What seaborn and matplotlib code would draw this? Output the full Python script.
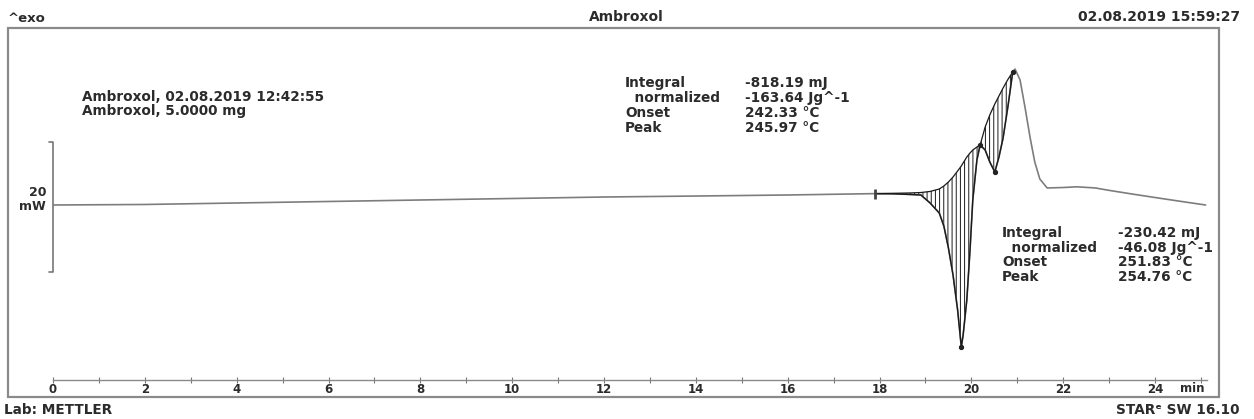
import matplotlib.pyplot as plt
import seaborn as sns
import pandas as pd
from matplotlib.patches import Rectangle
from matplotlib.ticker import MultipleLocator

# DSC curve, time in min, heat flow in mW (relative to start)
time = [0, 2, 4, 6, 8, 10, 12, 14, 16,
        17.9, 18.3, 18.66, 18.9, 19.1, 19.3, 19.4, 19.5, 19.6, 19.7,
        19.78, 19.82, 19.9, 19.97, 20.03, 20.12, 20.19,
        20.3, 20.4, 20.51, 20.6, 20.69, 20.8, 20.9,
        20.95, 21.06, 21.17, 21.28, 21.38, 21.49, 21.65,
        22.0, 22.3, 22.7, 23.0, 23.5, 24.0, 24.5, 25.1]
heat_flow = [0.00, 0.08, 0.31, 0.54, 0.77, 1.00, 1.23, 1.38, 1.54,
             1.75, 1.72, 1.62, 1.54, 0.31, -1.23, -3.23, -6.62, -10.77, -16.15,
             -21.85, -20.00, -14.62, -6.92, 0.77, 6.92, 9.23,
             8.46, 6.62, 5.08, 7.38, 10.31, 15.38, 20.46,
             20.92, 19.23, 14.92, 10.31, 6.62, 4.00, 2.62,
             2.69, 2.80, 2.62, 2.25, 1.69, 1.15, 0.62, 0.00]

# integration limits and their baselines (read at the curve's time points)
int1_range = (17.9, 20.19)
int1_base = [1.75, 1.80, 1.85, 1.92, 2.08, 2.46, 2.92, 3.54, 4.31, 5.23,
             6.00, 6.46, 7.38, 8.00, 8.46, 8.92, 9.23]
int2_range = (20.19, 20.9)
int2_base = [9.23, 12.0, 13.85, 15.54, 16.77, 18.0, 19.38, 20.46]

int1_labels = ["Integral", "  normalized", "Onset", "Peak"]
int1_values = ["-818.19 mJ", "-163.64 Jg^-1", "242.33 °C", "245.97 °C"]
int2_labels = ["Integral", "  normalized", "Onset", "Peak"]
int2_values = ["-230.42 mJ", "-46.08 Jg^-1", "251.83 °C", "254.76 °C"]

x_ticks = list(range(0, 25, 2))
scale_bar_mw = 20

W, H = 1254, 419
TXT = "#2b2b2b"

sns.set_theme(style="white")
plt.rcParams['font.family'] = ['DejaVu Sans']
plt.rcParams['hatch.linewidth'] = 0.7

df = pd.DataFrame({"time": time, "hf": heat_flow})

fig = plt.figure(figsize=(W / 100, H / 100), dpi=100)
fig.patch.set_facecolor("white")


def px(x, y):
    return x / W, 1 - y / H


def put(x, y, s, size=9.8, **kw):
    fig.text(*px(x, y), s, va="center", fontsize=size, fontweight="bold",
             color=TXT, **kw)


# axes placed so t=0 sits at px 53 and the time axis at px 380
left, right, top, bottom = 53, 1207, 28, 380
ax = fig.add_axes([left / W, 1 - bottom / H, (right - left) / W, (bottom - top) / H])
ax.set_facecolor("none")
ax.set_xlim(0, (right - left) / 45.92)
ax.set_ylim((205 - bottom) / 6.5, (205 - top) / 6.5)

sns.lineplot(data=df, x="time", y="hf", ax=ax, color="#7d7d7d", lw=1.2,
             estimator=None, sort=False)

for (t0, t1), base in [(int1_range, int1_base), (int2_range, int2_base)]:
    sub = df[(df.time >= t0) & (df.time <= t1)].copy()
    sub["base"] = base
    ax.fill_between(sub.time, sub.base, sub.hf, hatch="||||", facecolor="none",
                    edgecolor="#1a1a1a", linewidth=0)
    ax.plot(sub.time, sub.base, color="#1a1a1a", lw=0.9)
    ax.plot(sub.time, sub.hf, color="#1a1a1a", lw=1.0)

# integration markers
ax.plot([int1_range[0]], [heat_flow[time.index(int1_range[0])]], marker="|",
        ms=7, mew=2, color="#444")
for t in [19.78, 20.19, 20.51, 20.9]:
    ax.plot([t], [heat_flow[time.index(t)]], marker="o", ms=2.8, color="#222")

# 20 mW scale bar
mid = -0.3
ax.plot([-0.09, 0, 0, -0.09],
        [mid + scale_bar_mw / 2, mid + scale_bar_mw / 2,
         mid - scale_bar_mw / 2, mid - scale_bar_mw / 2],
        color="#777", lw=1.2, clip_on=False)

# time axis
for s in ["left", "top", "right"]:
    ax.spines[s].set_visible(False)
ax.spines["bottom"].set_color("#8a8a8a")
ax.spines["bottom"].set_linewidth(1.0)
ax.set_yticks([])
ax.set_xticks(x_ticks)
ax.xaxis.set_minor_locator(MultipleLocator(1))
ax.tick_params(axis="x", which="both", direction="inout", length=4, width=0.8,
               color="#777", bottom=True, labelsize=8.5, pad=0, labelcolor=TXT)
for lbl in ax.get_xticklabels():
    lbl.set_fontweight("bold")
ax.set_xlabel("")
ax.set_ylabel("")
put(1192, 388, "min", size=8.5, ha="center")

# frame
fig.patches.append(Rectangle(px(8, 397), (1219 - 8) / W, (397 - 28) / H,
                             transform=fig.transFigure, fill=False,
                             ec="#8a8a8a", lw=1.6))

# header / footer texts
put(8, 18, "^exo", size=9.5)
put(626, 17, "Ambroxol", size=10, ha="center")
put(1240, 17, "02.08.2019 15:59:27", size=10, ha="right")
put(4, 410, "Lab: METTLER", size=9.8)
put(1240, 410, "STARᵉ SW 16.10", size=9.8, ha="right")

put(82, 97, "Ambroxol, 02.08.2019 12:42:55")
put(82, 111, "Ambroxol, 5.0000 mg")

put(46, 192, "20", size=9, ha="right")
put(46, 206, "mW", size=9, ha="right")

for i, (lab, val) in enumerate(zip(int1_labels, int1_values)):
    put(625, 83 + 15 * i, lab)
    put(745, 83 + 15 * i, val)
for i, (lab, val) in enumerate(zip(int2_labels, int2_values)):
    put(1002, 233 + 14.7 * i, lab)
    put(1118, 233 + 14.7 * i, val)

fig.savefig("out.png", dpi=100)
